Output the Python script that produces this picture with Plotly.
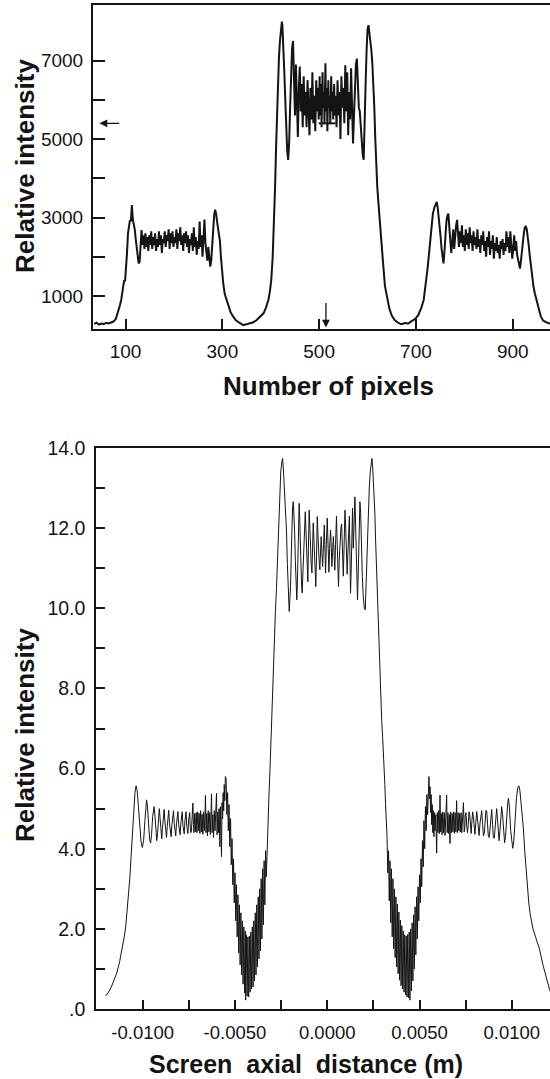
import plotly.graph_objects as go

# ---------------- data: top panel (pixel number, relative intensity) ----------------
top_left_valley_rise = [(35,290),(40,320),(45,270),(50,300),(55,285),(60,320),(65,300),(70,330),(75,350),(80,420),(84,560),(88,750),(91,900),(93,1070),(95,1250),(97,1400),(99,1380),(101,1700),(103,2100),(105,2600),(107,2850),(109,2930),(111,2900),(113,3320),(115,2950),(117,2820),(119,2700),(121,2450),(123,2200),(125,1950),(127,1830),(129,1870),(131,2300),(133,2680)]
top_left_plateau = [(135,2300),(137,2550),(139,2200),(141,2600),(143,2250),(145,2500),(147,2150),(149,2550),(151,2300),(153,2650),(155,2200),(157,2500),(159,2300),(161,2600),(163,2150),(165,2450),(167,2250),(169,2650),(171,2300),(173,2550),(175,2100),(177,2450),(179,2350),(181,2650),(183,2250),(185,2550),(187,2400),(189,2700),(191,2200),(193,2600),(195,2350),(197,2650),(199,2250),(201,2500),(203,2350),(205,2700),(207,2200),(209,2600),(211,2400),(213,2750),(215,2300),(217,2550),(219,2150),(221,2600),(223,2350),(225,2650),(227,2250),(229,2550),(231,2100),(233,2450),(235,2300),(237,2600),(239,2150),(241,2750),(243,2250),(245,2500),(247,2050),(249,2400),(251,2200),(253,2900),(255,2250),(257,2550),(259,2000),(261,2450),(263,2950),(265,2350),(267,2150),(269,1900),(271,2250)]
top_center_left_wall = [(273,2000),(275,1750),(277,1900),(279,2350),(281,2750),(283,3050),(285,3200),(287,3100),(289,2900),(291,2700),(293,2550),(295,2400),(297,2000),(299,1650),(302,1300),(305,1050),(309,880),(313,720),(317,590),(322,480),(328,380),(335,320),(343,260),(350,280),(357,300),(364,330),(371,390),(378,480),(385,560),(390,700),(395,900),(398,1100),(401,1400),(404,2000),(407,2900),(409,3800),(411,4800),(413,5700),(415,6500),(417,7100),(419,7500),(421,7800),(423,7990)]
top_center_plateau = [(424,7900),(426,7400),(428,6700),(430,6000),(432,5200),(434,4700),(436,4470),(438,4900),(440,5800),(442,6700),(444,7300),(446,7500),(448,6600),(450,5600),(452,6900),(454,5400),(456,5050),(458,6300),(460,6850),(462,5700),(464,6400),(466,5300),(468,6600),(470,5600),(472,6200),(474,5300),(476,6500),(478,5800),(480,5100),(482,6300),(484,5500),(486,6700),(488,5400),(490,6100),(492,5200),(494,6500),(496,5700),(498,6300),(499,5500),(501,6600),(502,5600),(504,6400),(505,5300),(507,6700),(508,5800),(510,6200),(511,5400),(513,6930),(514,5700),(516,6300),(517,5200),(519,6500),(520,5800),(522,6100),(523,5400),(525,6600),(526,5700),(528,6200),(529,5500),(531,6400),(532,5600),(534,6100),(536,5300),(538,6500),(540,5600),(542,6200),(544,5000),(546,6600),(548,5800),(550,6300),(552,5400),(554,6880),(556,5700),(558,6700),(560,5100),(562,6200),(564,5500),(566,6800),(568,5300),(570,4890),(572,5600),(574,6400),(576,6900),(578,7050),(580,6300),(582,5800),(584,5700),(586,5300),(588,5100),(590,4600),(592,4470),(594,5200),(596,6400),(598,7250),(600,7800),(602,7900)]
top_center_right_wall = [(604,7700),(606,7500),(608,7250),(610,6900),(612,6400),(614,5800),(616,5000),(618,4300),(620,3800),(622,3450),(625,2900),(628,2400),(632,1850),(636,1250),(640,950),(645,680),(650,500),(656,390),(663,320),(670,280),(677,310),(684,300),(691,360),(698,410),(705,520),(711,700),(716,900),(720,1250),(724,1700),(728,2200),(732,2750),(735,3100),(738,3250),(741,3350),(743,3400)]
top_right_plateau = [(745,3250),(747,3050),(749,2800),(751,2500),(753,2200),(755,1950),(757,1830),(759,2150),(761,2600),(763,2900),(765,3050),(767,3100),(769,2750),(771,2400),(773,2100),(775,2350),(777,2700),(779,2200),(781,2600),(783,2800),(785,2940),(787,2450),(789,2250),(791,2650),(793,2350),(795,2800),(797,2250),(799,2550),(801,2150),(803,2700),(805,2300),(807,2600),(809,2200),(811,2750),(813,2350),(815,2550),(817,2150),(819,2650),(821,2300),(823,2500),(825,2200),(827,2700),(829,2250),(831,2450),(833,2100),(835,2550),(837,2300),(839,2650),(841,2150),(843,2400),(845,2000),(847,2500),(849,2250),(851,2650),(853,2050),(855,2400),(857,2200),(859,2550),(861,1950),(863,2350),(865,2150),(867,2500),(869,2100),(871,2300),(873,1950),(875,2400),(877,2200),(879,2450),(881,2050),(883,2350),(885,2150),(887,2650),(889,2250),(891,2500),(893,2100),(895,2650),(897,2300),(899,1950),(901,2200),(903,2550),(905,2150),(907,2400),(909,2050),(911,1950),(913,1800),(915,1700),(917,1900),(919,2200),(921,2400),(923,2600),(925,2750),(927,2770),(929,2700),(931,2550),(933,2300),(935,2050),(937,1830),(940,1500),(943,1230),(946,1050),(950,880),(954,650),(958,480),(963,370),(968,330),(973,310),(978,300),(984,290)]

top_marker_level = 5400          # horizontal reference bar / left arrow level
top_marker_pixels = (499, 534)   # extent of the short bar in the centre
top_arrow_pixel = 514            # downward arrow on the pixel axis

# ---------------- data: bottom panel (screen axial distance in mm, relative intensity) ----------------
bot_left_edge = [(-12.00,0.33),(-11.85,0.42),(-11.70,0.55),(-11.55,0.72),(-11.40,0.90),(-11.25,1.18),(-11.10,1.50),(-11.00,1.80),(-10.92,2.05),(-10.84,2.45),(-10.77,2.85),(-10.70,3.25),(-10.63,3.80),(-10.56,4.40),(-10.49,4.95),(-10.42,5.40),(-10.36,5.57),(-10.30,5.45),(-10.23,5.05),(-10.16,4.55),(-10.09,4.18),(-10.02,4.03),(-9.95,4.20),(-9.88,4.70),(-9.83,5.08),(-9.79,5.22),(-9.74,5.05),(-9.68,4.60),(-9.62,4.22),(-9.57,4.14),(-9.52,4.35),(-9.46,4.80),(-9.42,5.00),(-9.38,5.05),(-9.33,4.80),(-9.28,4.38),(-9.24,4.20),(-9.19,4.40),(-9.14,4.85),(-9.10,5.00),(-9.06,4.78),(-9.01,4.35),(-8.97,4.25),(-8.93,4.50),(-8.88,4.88),(-8.84,4.98),(-8.80,4.70),(-8.75,4.32),(-8.71,4.28),(-8.67,4.55),(-8.63,4.90),(-8.59,4.96),(-8.55,4.65),(-8.50,4.34),(-8.46,4.30),(-8.42,4.58),(-8.37,4.90),(-8.33,4.95),(-8.29,4.62),(-8.25,4.35),(-8.21,4.32),(-8.17,4.62),(-8.13,4.90),(-8.09,4.93),(-8.05,4.60),(-8.01,4.36),(-7.97,4.35),(-7.93,4.65),(-7.89,4.90),(-7.86,4.92),(-7.82,4.58),(-7.78,4.38),(-7.75,4.37),(-7.71,4.70),(-7.68,4.90),(-7.65,4.92),(-7.61,4.55),(-7.58,4.38),(-7.55,4.38),(-7.51,4.72),(-7.48,4.90),(-7.45,4.90),(-7.42,4.50),(-7.39,4.40),(-7.36,4.45),(-7.32,4.85),(-7.28,5.14),(-7.25,4.60),(-7.22,4.40)]
bot_left_dense = [(-7.18,4.88),(-7.14,4.42),(-7.10,4.90),(-7.06,4.40),(-7.02,4.92),(-6.98,4.45),(-6.94,4.88),(-6.90,4.38),(-6.86,4.95),(-6.82,4.42),(-6.78,4.86),(-6.74,4.36),(-6.70,4.92),(-6.66,4.45),(-6.62,4.90),(-6.60,5.33),(-6.57,4.40),(-6.53,4.88),(-6.49,4.32),(-6.45,4.95),(-6.41,4.42),(-6.37,4.90),(-6.33,4.35),(-6.29,4.92),(-6.27,5.37),(-6.24,4.40),(-6.20,4.85),(-6.16,4.28),(-6.12,4.95),(-6.08,4.45),(-6.04,5.05),(-6.00,5.39),(-5.97,4.35),(-5.93,4.92),(-5.89,4.40),(-5.86,5.00),(-5.82,4.05),(-5.79,5.05),(-5.76,4.45),(-5.73,3.80),(-5.70,5.15),(-5.67,4.75),(-5.64,5.40),(-5.61,4.95),(-5.58,5.60),(-5.55,5.20),(-5.52,5.80)]
bot_left_bowl = [(-5.48,5.75),(-5.44,4.85),(-5.40,5.40),(-5.36,4.45),(-5.32,5.10),(-5.28,4.05),(-5.24,4.75),(-5.20,3.60),(-5.16,4.25),(-5.12,3.10),(-5.08,3.75),(-5.04,2.65),(-5.00,3.40),(-4.96,2.20),(-4.92,3.10),(-4.88,1.80),(-4.84,2.85),(-4.80,1.40),(-4.76,2.60),(-4.72,1.10),(-4.68,2.40),(-4.64,0.85),(-4.60,2.20),(-4.56,0.62),(-4.52,2.05),(-4.48,0.40),(-4.44,1.95),(-4.42,0.22),(-4.38,1.85),(-4.34,0.32),(-4.30,1.80),(-4.26,0.30),(-4.22,1.82),(-4.18,0.42),(-4.14,1.92),(-4.10,0.50),(-4.06,2.05),(-4.02,0.55),(-3.98,2.20),(-3.94,0.70),(-3.90,2.40),(-3.86,0.85),(-3.82,2.60),(-3.78,1.05),(-3.74,2.80),(-3.70,1.25),(-3.66,3.00),(-3.62,1.45),(-3.58,3.25),(-3.54,1.75),(-3.50,3.50),(-3.46,2.10),(-3.42,3.70),(-3.38,2.60),(-3.34,3.95),(-3.30,3.30),(-3.26,4.10)]
bot_left_wall = [(-3.22,4.50),(-3.16,5.30),(-3.10,6.00),(-3.04,6.90),(-2.98,7.80),(-2.92,8.70),(-2.87,9.30),(-2.81,9.90),(-2.75,10.50),(-2.70,11.20),(-2.66,11.70),(-2.62,12.30),(-2.57,13.00),(-2.52,13.40),(-2.46,13.65),(-2.42,13.74)]
bot_center = [(-2.38,13.50),(-2.33,13.05),(-2.28,12.50),(-2.21,11.95),(-2.16,11.10),(-2.12,10.54),(-2.06,9.92),(-2.02,10.30),(-1.99,10.54),(-1.95,11.30),(-1.92,11.95),(-1.88,12.50),(-1.84,12.66),(-1.80,12.40),(-1.77,11.95),(-1.73,11.20),(-1.70,10.71),(-1.65,10.21),(-1.62,10.60),(-1.59,11.12),(-1.55,12.00),(-1.52,12.62),(-1.49,12.20),(-1.45,11.30),(-1.40,10.70),(-1.36,10.38),(-1.32,10.80),(-1.29,11.30),(-1.24,12.00),(-1.19,12.41),(-1.15,11.90),(-1.12,11.30),(-1.08,10.90),(-1.05,10.66),(-1.02,11.50),(-0.98,12.45),(-0.94,12.00),(-0.91,11.50),(-0.87,11.10),(-0.83,10.88),(-0.80,11.40),(-0.76,12.13),(-0.72,11.70),(-0.69,11.30),(-0.65,10.80),(-0.62,10.54),(-0.58,11.30),(-0.54,12.29),(-0.50,11.80),(-0.47,11.30),(-0.43,11.10),(-0.40,10.96),(-0.36,11.40),(-0.33,11.79),(-0.29,11.40),(-0.25,11.04),(-0.20,11.60),(-0.16,12.08),(-0.12,11.40),(-0.09,10.88),(-0.05,11.60),(0.00,12.25),(0.05,11.50),(0.09,10.90),(0.13,11.50),(0.18,11.95),(0.22,11.50),(0.25,11.04),(0.29,11.40),(0.33,11.79),(0.37,11.40),(0.41,10.95),(0.45,11.60),(0.50,12.30),(0.54,11.60),(0.58,10.90),(0.61,10.54),(0.65,11.20),(0.69,11.70),(0.74,12.00),(0.78,12.10),(0.82,11.40),(0.87,10.80),(0.91,11.50),(0.96,12.45),(1.00,12.00),(1.04,11.30),(1.08,10.85),(1.12,11.40),(1.16,12.20),(1.20,12.30),(1.23,11.30),(1.26,10.38),(1.30,11.00),(1.34,12.00),(1.37,12.50),(1.41,11.50),(1.45,12.30),(1.50,12.78),(1.54,12.00),(1.58,11.10),(1.64,10.21),(1.68,10.90),(1.72,11.90),(1.77,12.66),(1.81,12.40),(1.85,11.50),(1.90,10.80),(1.95,10.30),(2.01,10.00),(2.06,9.96),(2.10,10.60),(2.15,11.40),(2.20,12.20),(2.25,12.80),(2.28,13.03),(2.33,13.40),(2.38,13.65),(2.42,13.74)]
bot_right_wall = [(2.46,13.55),(2.50,13.20),(2.54,12.80),(2.58,12.38),(2.62,11.70),(2.67,10.96),(2.72,10.10),(2.77,9.29),(2.81,8.70),(2.85,8.20),(2.90,7.70),(2.95,7.20),(3.00,6.80),(3.04,6.50),(3.08,6.10),(3.12,5.60),(3.16,5.10),(3.20,4.70),(3.24,4.30)]
bot_right_bowl = [(3.28,3.40),(3.32,3.95),(3.36,2.70),(3.40,3.70),(3.44,2.15),(3.48,3.50),(3.52,1.80),(3.56,3.25),(3.60,1.50),(3.64,3.00),(3.68,1.28),(3.72,2.80),(3.76,1.05),(3.80,2.62),(3.84,0.88),(3.88,2.42),(3.92,0.72),(3.96,2.22),(4.00,0.58),(4.04,2.08),(4.08,0.50),(4.12,1.95),(4.16,0.42),(4.20,1.85),(4.24,0.35),(4.28,1.82),(4.32,0.30),(4.36,1.86),(4.40,0.28),(4.44,1.92),(4.48,0.22),(4.52,2.00),(4.56,0.45),(4.60,2.15),(4.64,0.70),(4.68,2.35),(4.72,1.00),(4.76,2.55),(4.80,1.35),(4.84,2.80),(4.88,1.75),(4.92,3.05),(4.96,2.20),(5.00,3.35),(5.04,2.65),(5.08,3.75),(5.12,3.05),(5.16,4.20),(5.20,3.55),(5.24,4.70),(5.28,4.00),(5.32,5.05),(5.36,4.45),(5.40,5.35),(5.44,4.85),(5.48,5.70)]
bot_right_dense = [(5.51,5.80),(5.54,5.25),(5.57,5.55),(5.60,4.90),(5.63,5.35),(5.66,4.60),(5.69,5.10),(5.72,4.40),(5.75,4.95),(5.78,4.30),(5.81,4.90),(5.84,4.45),(5.88,4.85),(5.93,3.89),(5.96,4.90),(6.00,4.40),(6.04,4.95),(6.08,4.38),(6.11,5.34),(6.14,4.42),(6.18,4.88),(6.22,4.35),(6.26,4.92),(6.30,4.40),(6.34,4.90),(6.38,4.33),(6.42,4.88),(6.47,5.34),(6.50,4.40),(6.54,4.90),(6.58,4.38),(6.62,4.85),(6.65,4.13),(6.69,4.92),(6.73,4.40),(6.77,4.88),(6.81,4.42),(6.85,4.92),(6.89,4.38),(6.93,4.90),(6.97,4.42),(7.01,5.20),(7.05,4.40),(7.09,4.90),(7.13,4.45),(7.17,4.88),(7.21,4.42),(7.25,4.90),(7.29,4.40),(7.33,4.88),(7.38,5.15),(7.42,4.42)]
bot_right_edge = [(7.45,4.50),(7.48,4.85),(7.52,4.90),(7.56,4.55),(7.60,4.40),(7.64,4.60),(7.68,4.92),(7.72,4.85),(7.76,4.45),(7.80,4.38),(7.84,4.70),(7.88,4.92),(7.92,4.80),(7.96,4.42),(8.00,4.36),(8.05,4.65),(8.10,4.93),(8.14,4.75),(8.19,4.35),(8.23,4.33),(8.28,4.65),(8.33,4.92),(8.37,4.95),(8.42,4.60),(8.46,4.32),(8.51,4.38),(8.56,4.75),(8.60,4.96),(8.64,4.94),(8.69,4.55),(8.73,4.30),(8.78,4.28),(8.83,4.60),(8.87,4.95),(8.91,4.98),(8.96,4.60),(9.00,4.28),(9.05,4.26),(9.10,4.60),(9.14,4.95),(9.18,5.00),(9.23,4.70),(9.27,4.30),(9.31,4.20),(9.36,4.45),(9.41,4.90),(9.45,5.05),(9.50,4.85),(9.56,4.35),(9.61,4.15),(9.66,4.30),(9.72,4.85),(9.78,5.15),(9.82,5.26),(9.87,5.05),(9.94,4.45),(10.00,4.10),(10.05,4.01),(10.11,4.20),(10.18,4.75),(10.25,5.25),(10.32,5.52),(10.38,5.57),(10.44,5.45),(10.50,5.20),(10.56,4.90),(10.63,4.50),(10.70,3.95),(10.77,3.45),(10.84,3.05),(10.92,2.65),(11.00,2.35),(11.15,2.00),(11.30,1.78),(11.50,1.50),(11.70,1.08),(11.90,0.70),(12.05,0.48),(12.15,0.35)]

# ---------------- assemble ----------------
top_segments = [top_left_valley_rise, top_left_plateau, top_center_left_wall, top_center_plateau,
                top_center_right_wall, top_right_plateau]
top_pixels = [p[0] for seg in top_segments for p in seg]
top_intensity = [p[1] for seg in top_segments for p in seg]

bot_segments = [bot_left_edge, bot_left_dense, bot_left_bowl, bot_left_wall, bot_center,
                bot_right_wall, bot_right_bowl, bot_right_dense, bot_right_edge]
bot_distance_m = [p[0] / 1000.0 for seg in bot_segments for p in seg]
bot_intensity = [p[1] for seg in bot_segments for p in seg]

W, H = 550, 1079
FONT = "Liberation Sans, Arial, Helvetica, sans-serif"
INK = "#141414"

fig = go.Figure()
fig.add_trace(go.Scatter(x=top_pixels, y=top_intensity, mode="lines",
                         line=dict(color=INK, width=2.0), xaxis="x", yaxis="y", hoverinfo="skip"))
fig.add_trace(go.Scatter(x=bot_distance_m, y=bot_intensity, mode="lines",
                         line=dict(color=INK, width=1.0), xaxis="x2", yaxis="y2", hoverinfo="skip"))

def axis_common(size):
    return dict(showgrid=False, zeroline=False, showline=True, linecolor=INK, automargin=False,
                ticks="inside", tickcolor=INK, tickwidth=1.5,
                tickfont=dict(family=FONT, size=size, color=INK))

fig.update_layout(
    template="none",
    width=W, height=H, autosize=False,
    margin=dict(l=0, r=0, t=0, b=0, pad=0),
    paper_bgcolor="white", plot_bgcolor="white",
    showlegend=False, hovermode=False,
    xaxis=dict(domain=[93 / W, 1.0], range=[32.7, 977], anchor="y",
               tickvals=[100, 300, 500, 700, 900], ticklen=10, linewidth=2, mirror=True,
               ticklabelstandoff=4, **axis_common(19)),
    yaxis=dict(domain=[1 - 329 / H, 1 - 5 / H], range=[160, 8415], anchor="x",
               tickvals=[1000, 2000, 3000, 4000, 5000, 6000, 7000],
               ticktext=["1000", "", "3000", "", "5000", "", "7000"],
               ticklen=12, linewidth=2, ticklabelstandoff=4, **axis_common(19)),
    xaxis2=dict(domain=[96 / W, 1.0], range=[-0.01253, 0.01207], anchor="y2",
                tickvals=[-0.01, -0.0075, -0.005, -0.0025, 0.0, 0.0025, 0.005, 0.0075, 0.01],
                ticktext=["-0.0100", "", "-0.0050", "", "0.0000", "", "0.0050", "", "0.0100"],
                ticklen=9, linewidth=1.5, mirror=True, ticklabelstandoff=6, **axis_common(18.5)),
    yaxis2=dict(domain=[1 - 1009 / H, 1 - 448 / H], range=[0, 14], anchor="x2",
                tickvals=list(range(0, 15)),
                ticktext=[".0", "", "2.0", "", "4.0", "", "6.0", "", "8.0", "", "10.0", "", "12.0", "", "14.0"],
                ticklen=9, linewidth=1.5, ticklabelstandoff=5, **axis_common(19.5)),
)

fig.add_annotation(text="<b>Relative intensity</b>", x=25 / W, y=1 - 166 / H, xref="paper", yref="paper",
                   textangle=-90, showarrow=False, font=dict(family=FONT, size=26, color=INK),
                   xanchor="center", yanchor="middle")
fig.add_annotation(text="<b>Number of pixels</b>", x=328 / W, y=1 - 386 / H, xref="paper", yref="paper",
                   showarrow=False, font=dict(family=FONT, size=26, color=INK),
                   xanchor="center", yanchor="middle")
fig.add_annotation(text="<b>Relative intensity</b>", x=25 / W, y=1 - 735 / H, xref="paper", yref="paper",
                   textangle=-90, showarrow=False, font=dict(family=FONT, size=26, color=INK),
                   xanchor="center", yanchor="middle")
fig.add_annotation(text="<b>Screen  axial  distance (m)</b>", x=306 / W, y=1 - 1064 / H, xref="paper", yref="paper",
                   showarrow=False, font=dict(family=FONT, size=25, color=INK),
                   xanchor="center", yanchor="middle")

# arrows and reference bar on the top panel
fig.add_annotation(x=46, y=top_marker_level, ax=90, ay=top_marker_level, xref="x", yref="y",
                   axref="x", ayref="y", text="", showarrow=True, arrowhead=2, arrowsize=1.2,
                   arrowwidth=1.3, arrowcolor=INK)
fig.add_annotation(x=top_arrow_pixel, y=200, ax=top_arrow_pixel, ay=860, xref="x", yref="y",
                   axref="x", ayref="y", text="", showarrow=True, arrowhead=2, arrowsize=1.2,
                   arrowwidth=1.3, arrowcolor=INK)
fig.add_shape(type="line", x0=top_marker_pixels[0], x1=top_marker_pixels[1], y0=top_marker_level,
              y1=top_marker_level, xref="x", yref="y", line=dict(color=INK, width=2))

fig.write_html("out.html")
